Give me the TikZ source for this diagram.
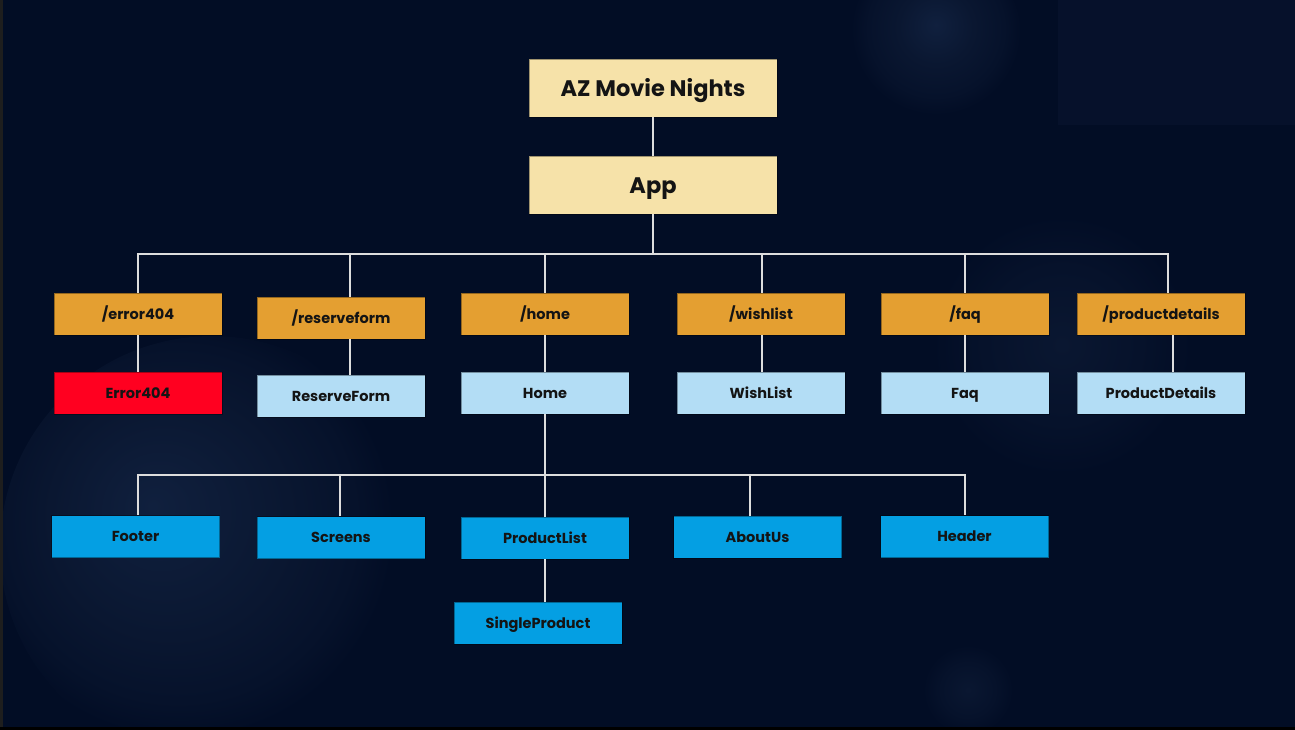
\documentclass[tikz,border=0pt]{standalone}
\usepackage{fontspec}
\setmainfont{Poppins}
\definecolor{bg}{HTML}{020D25}
\definecolor{bkc}{HTML}{10203E}
\definecolor{bke}{HTML}{0A1731}
\definecolor{bkf}{HTML}{06122B}
\definecolor{bkr}{HTML}{06112B}
\definecolor{cream}{HTML}{F6E2A9}
\definecolor{orange}{HTML}{E49F31}
\definecolor{lblue}{HTML}{B3DDF5}
\definecolor{dblue}{HTML}{049FE3}
\definecolor{errred}{HTML}{FF0020}
\definecolor{linec}{HTML}{DDDDDD}
\definecolor{edgegray}{HTML}{1E1E1E}
\pgfdeclareradialshading{bokehshade}{\pgfpoint{-7bp}{5bp}}{%
  color(0bp)=(bkc); color(14bp)=(bke); color(21bp)=(bkf); color(25bp)=(bg); color(50bp)=(bg)}
\pgfdeclareradialshading{bokehsoft}{\pgfpoint{0bp}{3bp}}{%
  color(0bp)=(bkc); color(11bp)=(bke); color(20bp)=(bkf); color(25bp)=(bg); color(50bp)=(bg)}
\pgfdeclareradialshading{bokehfaint}{\pgfpoint{0bp}{0bp}}{%
  color(0bp)=(bke); color(15bp)=(bkf); color(25bp)=(bg); color(50bp)=(bg)}
\begin{document}
\begin{tikzpicture}[x=1pt,y=-1pt,
  basebox/.style={rectangle, draw=black, draw opacity=0.35, line width=0.6pt, text=black!92,
    minimum width=168pt, minimum height=42pt, inner sep=0pt,
    text height=10pt, text depth=0pt,
    font=\bfseries\fontsize{14.5}{16}\selectfont},
  topbox/.style={basebox, fill=cream, minimum width=248pt, minimum height=58pt,
    text height=16pt, font=\bfseries\fontsize{22.5}{25}\selectfont},
  routebox/.style={basebox, fill=orange},
  compbox/.style={basebox, fill=lblue},
  subbox/.style={basebox, fill=dblue},
  errbox/.style={basebox, fill=errred},
  conn/.style={draw=linec, line width=1.5pt}
]
\useasboundingbox (0,0) rectangle (1295,729);
\fill[bg] (0,0) rectangle (1295,729);
% background bokeh
\begin{scope}
\clip (0,0) rectangle (1295,727);
\fill[bkr] (1058,0) rectangle (1295,125);
\shade[shading=bokehshade] (212,548) circle (212);
\shade[shading=bokehfaint] (1062,345) circle (130);
\shade[shading=bokehsoft] (936,35) circle (85);
\shade[shading=bokehfaint] (968,690) circle (45);
\end{scope}
\fill[edgegray] (0,0) rectangle (3,729);
\fill[black] (0,727) rectangle (1295,730);

% nodes
\node[topbox] (az) at (653,88) {AZ Movie Nights};
\node[topbox] (app) at (653,185) {App};

\node[routebox] (r404) at (138,314) {/error404};
\node[routebox] (rrsv) at (341,318) {/reserveform};
\node[routebox] (rhome) at (545,314) {/home};
\node[routebox] (rwish) at (761,314) {/wishlist};
\node[routebox] (rfaq) at (965,314) {/faq};
\node[routebox] (rpd) at (1161,314) {/productdetails};

\node[errbox] (c404) at (138,393) {Error404};
\node[compbox] (crsv) at (341,396) {ReserveForm};
\node[compbox] (chome) at (545,393) {Home};
\node[compbox] (cwish) at (761,393) {WishList};
\node[compbox] (cfaq) at (965,393) {Faq};
\node[compbox] (cpd) at (1161,393) {ProductDetails};

\node[subbox] (footer) at (135.5,536.5) {Footer};
\node[subbox] (screens) at (341,537.5) {Screens};
\node[subbox] (plist) at (545,538) {ProductList};
\node[subbox] (about) at (757.5,537) {AboutUs};
\node[subbox] (header) at (964.5,536.5) {Header};
\node[subbox] (single) at (538,623) {SingleProduct};

\coordinate (bus) at (653,254);
\coordinate (bus2) at (545,475);

% connectors
\draw[conn] (az.south) -- (app.north);
\draw[conn] (app.south) -- (bus);
\draw[conn] (bus) -| (r404.north);
\draw[conn] (bus) -| ([xshift=9pt]rrsv.north);
\draw[conn] (bus) -| (rhome.north);
\draw[conn] (bus) -| ([xshift=1pt]rwish.north);
\draw[conn] (bus) -| (rfaq.north);
\draw[conn] (bus) -| ([xshift=7pt]rpd.north);

\draw[conn] (r404.south) -- (c404.north);
\draw[conn] ([xshift=9pt]rrsv.south) -- ([xshift=9pt]crsv.north);
\draw[conn] (rhome.south) -- (chome.north);
\draw[conn] ([xshift=1pt]rwish.south) -- ([xshift=1pt]cwish.north);
\draw[conn] (rfaq.south) -- (cfaq.north);
\draw[conn] ([xshift=12pt]rpd.south) -- ([xshift=12pt]cpd.north);

\draw[conn] (chome.south) -- (bus2);
\draw[conn] (bus2) -| ([xshift=2.5pt]footer.north);
\draw[conn] (bus2) -| ([xshift=-1pt]screens.north);
\draw[conn] (bus2) -- (plist.north);
\draw[conn] (bus2) -| ([xshift=-7.5pt]about.north);
\draw[conn] (bus2) -| ([xshift=0.5pt]header.north);
\draw[conn] (plist.south) -- ([xshift=7pt]single.north);
\end{tikzpicture}
\end{document}
